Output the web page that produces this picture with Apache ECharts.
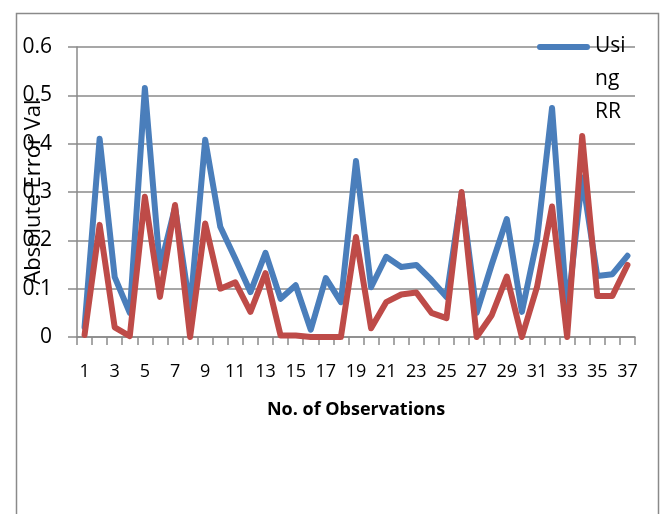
<!DOCTYPE html>
<html><head><meta charset="utf-8">
<script src="https://cdn.jsdelivr.net/npm/echarts@6/dist/echarts.min.js"></script>
<style>html,body{margin:0;padding:0;background:#fff}#c{width:663px;height:514px}</style>
</head><body><div id="c"></div>
<script>
const categories = Array.from({length: 37}, (_, i) => String(i + 1));
const usingRR = [0.02, 0.41, 0.124, 0.05, 0.515, 0.143, 0.268, 0.058, 0.408, 0.228, 0.162, 0.093, 0.174, 0.079, 0.107, 0.015, 0.122, 0.072, 0.364, 0.103, 0.166, 0.145, 0.149, 0.118, 0.083, 0.295, 0.05, 0.15, 0.244, 0.052, 0.2, 0.474, 0.05, 0.33, 0.126, 0.13, 0.168];
const series2 = [0.004, 0.232, 0.02, 0.002, 0.29, 0.083, 0.273, 0.0, 0.235, 0.1, 0.113, 0.052, 0.132, 0.003, 0.003, 0.0, 0.0, 0.0, 0.207, 0.018, 0.072, 0.088, 0.092, 0.05, 0.039, 0.30, 0.0, 0.045, 0.125, 0.0, 0.103, 0.27, 0.0, 0.416, 0.085, 0.085, 0.149];
const yTicks = [0, 0.1, 0.2, 0.3, 0.4, 0.5, 0.6];

const FONT = '"Open Sans", sans-serif';
const GRAY = '#8a8a8a';
const chart = echarts.init(document.getElementById('c'), null, {renderer: 'canvas'});
chart.setOption({
  animation: false,
  backgroundColor: '#fff',
  graphic: [{
    type: 'rect', left: 14, top: 11, z: -10,
    shape: {width: 642, height: 520},
    style: {fill: 'none', stroke: GRAY, lineWidth: 1.5}
  }],
  grid: {left: 77, right: 28, top: 47, bottom: 177, containLabel: false, outerBoundsMode: 'none'},
  legend: {
    data: ['Using RR'],
    left: 537, top: 30,
    padding: 0,
    orient: 'vertical',
    itemWidth: 53, itemHeight: 99,
    itemGap: 0,
    symbolKeepAspect: false,
    icon: 'path://M0,0H0.01V0.01H0Z M2,14H51A3,3,0,0,1,51,20H2A3,3,0,0,1,2,14Z M0,98.99H0.01V99H0Z',
    formatter: () => 'Usi\nng\nRR',
    textStyle: {fontFamily: FONT, fontSize: 21, color: '#000', lineHeight: 33, padding: [0,0,0,0]}
  },
  xAxis: {
    type: 'category',
    data: categories,
    boundaryGap: true,
    name: 'No. of Observations',
    nameLocation: 'middle',
    nameGap: 64,
    nameMoveOverlap: false,
    nameTextStyle: {fontFamily: FONT, fontSize: 18, fontWeight: 'bold', color: '#000'},
    axisLine: {show: true, lineStyle: {color: GRAY, width: 1.5}},
    axisTick: {show: true, interval: 0, length: 8, inside: false, lineStyle: {color: GRAY, width: 1.5}},
    axisLabel: {interval: 1, margin: 26, fontFamily: FONT, fontSize: 18, color: '#000'},
    splitLine: {show: false}
  },
  yAxis: {
    type: 'value',
    min: 0, max: 0.6, interval: 0.1,
    name: 'Absolute Error Val',
    nameLocation: 'middle',
    nameGap: 32,
    nameRotate: 90,
    nameMoveOverlap: false,
    nameTextStyle: {fontFamily: FONT, fontSize: 22, color: '#000'},
    axisLine: {show: true, lineStyle: {color: GRAY, width: 1.5}},
    axisTick: {show: true, length: 9, inside: false, lineStyle: {color: GRAY, width: 1.5}},
    axisLabel: {margin: 25, fontFamily: FONT, fontSize: 21, color: '#000',
      formatter: v => { const t = yTicks.find(x => Math.abs(x - v) < 1e-9); return t === 0 ? '0' : String(t !== undefined ? t : v); }},
    splitLine: {show: true, lineStyle: {color: GRAY, width: 1.5}}
  },
  series: [
    {name: 'Using RR', type: 'line', data: usingRR, symbol: 'none', z: 2,
     lineStyle: {color: '#4A7EBB', width: 6, join: 'round', cap: 'round'}, itemStyle: {color: '#4A7EBB'}},
    {name: 'Series 2', type: 'line', data: series2, symbol: 'none', z: 3,
     lineStyle: {color: '#BE4B48', width: 6, join: 'round', cap: 'round'}, itemStyle: {color: '#BE4B48'}}
  ]
});
</script></body></html>
